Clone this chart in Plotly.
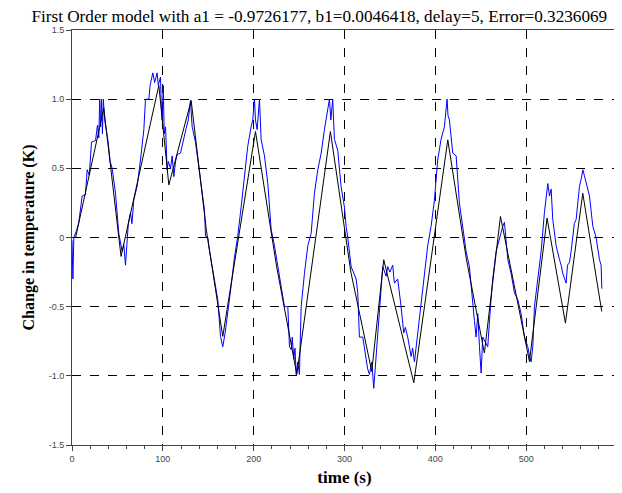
import plotly.graph_objects as go

meas_t = [0, 1, 2, 5, 7.5, 9, 11.2, 14.8, 16.7, 19, 21.5, 25.9, 28, 29.5, 30.5, 31.5, 32.5, 33.5, 34.5, 36,
          37.6, 39.8, 42, 44.2, 47.9, 49.7, 51.5, 55.2, 57, 58.9, 60.7, 62, 64.4, 66, 68, 71.7, 75.4, 77,
          79.1, 80.9, 84.6, 86, 89, 91, 93.7, 95, 97.4, 98.3, 99.3, 100.5, 101.5, 103, 104.7, 106, 108.4,
          110.3, 112.1, 114, 115.8, 119.4, 121, 123.1, 125.7, 128, 130.4, 132.3, 135.9, 139.6, 143.3,
          145.8, 147, 149.5, 151, 153.2, 156.9, 160.5, 163.5, 166, 168.6, 171.5, 175.2, 178.9, 182.5,
          186.2, 189.9, 193.5, 197.2, 199, 200.9, 202, 203.8, 205, 206.4, 208.2, 211.9, 215.6, 219.2,
          222.9, 226.6, 230.2, 233.9, 237.6, 238.5, 239.4, 241.3, 242.5, 244.2, 245.5, 246.8, 248.5,
          250.4, 252.3, 255.9, 259.6, 263.3, 266.9, 270.6, 274.3, 277.9, 279.5, 281.6, 283.4, 285, 287,
          288.9, 292.6, 296.2, 299.9, 301.8, 303.6, 307.3, 310, 312.8, 314.6, 316.4, 320.1, 323.8, 325.5,
          327.5, 330, 332.2, 334.8, 338.4, 342.1, 345.8, 347.6, 350, 353.1, 354.9, 358.6, 362.3, 365.2,
          367, 369.6, 373.3, 375, 377, 380.6, 384.3, 388, 391.6, 395.3, 399, 402.6, 406.3, 410, 411.5,
          412.9, 414, 415.5, 419.2, 422.9, 426.5, 430.2, 433.9, 437.5, 441.2, 443, 444.9, 446.7, 448.6,
          450.4, 452.2, 455.9, 457.7, 460.7, 463.2, 466.9, 470.6, 472.5, 474.2, 476.1, 477.5, 479.8,
          483.4, 487.1, 490.8, 494.4, 498.1, 501.8, 503.5, 505.4, 507.3, 509.1, 512.8, 516.5, 520.1,
          522, 523.8, 525.7, 527.5, 529.3, 533, 536.7, 538.5, 540.3, 542, 544, 545.5, 547.7, 549.5,
          551.4, 553, 555, 558.7, 560.5, 562.4, 564, 566, 569.7, 573.4, 577, 580.7, 582.5, 583.3]
meas_v = [-0.02, -0.3, 0.0, 0.05, 0.11, 0.2, 0.30, 0.31, 0.49, 0.45, 0.69, 0.70, 0.81, 0.72, 1.0, 0.8,
          1.0, 0.75, 1.0, 0.85, 0.79, 0.69, 0.55, 0.50, 0.32, 0.15, 0.03, -0.10, -0.05, -0.20, 0.0, 0.1,
          0.18, 0.10, 0.27, 0.37, 0.56, 0.65, 0.78, 1.0, 1.0, 1.1, 1.19, 1.12, 1.19, 1.1, 1.16, 0.95,
          0.85, 1.1, 0.75, 0.80, 0.49, 0.55, 0.50, 0.59, 0.44, 0.55, 0.60, 0.61, 0.66, 0.71, 0.79, 0.85,
          0.99, 0.80, 0.69, 0.51, 0.30, 0.20, 0.01, 0.0, -0.08, -0.16, -0.30, -0.45, -0.715, -0.79,
          -0.69, -0.55, -0.35, -0.14, 0.01, 0.22, 0.47, 0.66, 0.80, 0.85, 1.0, 0.85, 0.78, 0.9, 1.0,
          0.71, 0.59, 0.39, 0.06, -0.06, -0.21, -0.37, -0.5, -0.5, -0.62, -0.79, -0.81, -0.72, -0.88,
          -0.8, -0.99, -0.9, -0.99, -0.5, -0.26, -0.06, 0.03, 0.32, 0.49, 0.61, 0.78, 0.85, 0.95, 1.0,
          0.85, 1.0, 0.71, 0.63, 0.37, 0.22, 0.08, 0.0, -0.21, -0.25, -0.3, -0.4, -0.72, -0.72, -0.88,
          -0.95, -0.99, -0.9, -1.09, -0.84, -0.5, -0.21, -0.28, -0.21, -0.25, -0.2, -0.33, -0.3, -0.5,
          -0.69, -0.65, -0.72, -0.86, -0.8, -0.9, -0.69, -0.5, -0.26, -0.06, 0.08, 0.27, 0.56, 0.71,
          0.80, 0.9, 1.0, 0.88, 0.85, 0.61, 0.59, 0.25, 0.08, -0.1, -0.21, -0.5, -0.6, -0.72, -0.55,
          -0.79, -0.98, -0.72, -0.77, -0.79, -0.5, -0.3, -0.1, 0.0, 0.05, 0.08, 0.11, 0.0, -0.16, -0.26,
          -0.4, -0.45, -0.55, -0.72, -0.79, -0.85, -0.9, -0.79, -0.5, -0.3, -0.1, 0.18, 0.30, 0.39, 0.3,
          0.35, 0.13, -0.06, -0.16, -0.2, -0.26, -0.3, -0.33, -0.2, -0.18, -0.1, 0.0, 0.1, 0.13, 0.37,
          0.42, 0.49, 0.45, 0.39, 0.30, 0.08, 0.0, -0.16, -0.2, -0.37]

# first order model output (black), vertices
model_t = [4, 35, 54, 95.6, 106.6, 131.2, 148, 166, 202, 225, 247.5, 284.5, 307, 330, 343.2, 376.3,
           413.7, 434, 454, 471.7, 503.6, 523, 543.2, 562.3, 583.2]
model_v = [0.0, 0.935, -0.137, 1.10, 0.38, 0.99, 0.05, -0.715, 0.766, -0.2, -0.99, 0.766, -0.25,
           -0.968, -0.161, -1.05, 0.706, -0.15, -0.835, 0.152, -0.896, 0.14, -0.619, 0.32, -0.535]

x_ticks = [0, 100, 200, 300, 400, 500, 600]
y_ticks = [-1.5, -1.0, -0.5, 0, 0.5, 1.0, 1.5]
y_labels = ["-1.5", "-1.0", "-0.5", "0", "0.5", "1.0", "1.5"]

fig = go.Figure()
fig.add_trace(go.Scatter(x=meas_t, y=meas_v, mode="lines",
                         line=dict(color="#0000ff", width=1), showlegend=False))
fig.add_trace(go.Scatter(x=model_t, y=model_v, mode="lines",
                         line=dict(color="#000000", width=1), showlegend=False))

axis_common = dict(
    showline=True, linecolor="#444444", linewidth=1, mirror=True,
    ticks="outside", ticklen=5, tickcolor="#444444",
    showgrid=True, gridcolor="#000000", griddash="dash", gridwidth=1,
    zeroline=False, automargin=False,
    tickfont=dict(family="Liberation Sans, Arial", size=9, color="#444444"),
)

fig.update_xaxes(
    range=[0, 600], tickvals=x_ticks,
    minor=dict(dtick=20, ticks="outside", ticklen=3, tickcolor="#444444", showgrid=False),
    title=dict(text="<b>time (s)</b>", standoff=8,
               font=dict(family="Liberation Serif, Times New Roman", size=17, color="#000")),
    **axis_common,
)
fig.update_yaxes(
    range=[-1.5, 1.5], tickvals=y_ticks, ticktext=y_labels,
    title=dict(text="<b>Change in temperature (K)</b>", standoff=10,
               font=dict(family="Liberation Serif, Times New Roman", size=16, color="#000")),
    **axis_common,
)

# the page puts the figure 8 px in from the top-left corner
fig.update_layout(
    width=614, height=485,
    margin=dict(l=64, r=5, t=22, b=48, autoexpand=False),
    paper_bgcolor="white", plot_bgcolor="white",
    title=dict(text="First Order model with a1 = -0.9726177, b1=0.0046418, delay=5, Error=0.3236069",
               x=0.507, xanchor="center", y=1.0, yanchor="top", pad=dict(t=2),
               font=dict(family="Liberation Serif, Times New Roman", size=17.2, color="#000")),
)

fig.write_html("out.html")
